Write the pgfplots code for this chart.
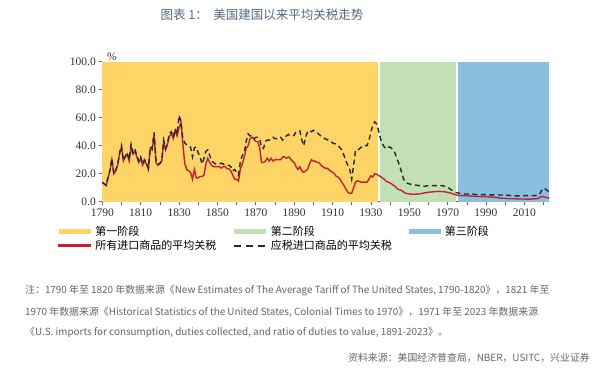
\documentclass[border=0pt]{standalone}
\usepackage{pgfplots}
\usepackage{pgfplotstable}
\pgfplotsset{compat=1.18}
\usepackage{fontspec}
\setmainfont{Noto Sans CJK SC}
\newfontfamily\serifnum{Liberation Serif}
\definecolor{phaseA}{HTML}{FFD466}
\definecolor{phaseB}{HTML}{C3E0B5}
\definecolor{phaseC}{HTML}{8CBEE0}
\definecolor{redline}{HTML}{C42032}
\definecolor{darkline}{HTML}{1C2B3A}
\definecolor{titlec}{HTML}{56697C}
\definecolor{notec}{HTML}{666666}
\pgfplotsset{
  patchleg/.style={legend image code/.code={\fill[##1] (0pt,-2.5pt) rectangle (32pt,2.5pt); \path (35pt,0pt);}},
  lineleg/.style={legend image code/.code={\fill[redline] (0pt,-0.8pt) rectangle (32pt,0.8pt); \path (35pt,0pt);}},
  dashleg/.style={legend image code/.code={\draw[darkline, line width=1.6pt, dash pattern=on 7pt off 5pt] (0pt,0pt) -- (32pt,0pt); \path (35pt,0pt);}},
}

\pgfplotstableread{
year val
1790 13.9
1791 12.7
1792 11.5
1793 17
1794 22
1795 30
1796 20
1797 22
1798 26
1799 34
1800 39
1801 29
1802 32
1803 34
1804 29
1805 39
1806 34
1807 36
1808 32
1809 28
1810 31
1811 26
1812 29
1813 27
1814 23
1815 38
1816 37
1817 48
1818 28
1819 26
1820 27
1821 29
1822 43
1823 37
1824 41
1825 47
1826 48.5
1827 45
1828 51
1829 47
1830 53
1831 57
1832 41
1833 27
1834 23
1835 22
1836 21
1837 16
1838 23
1839 17
1840 17
1841 18
1842 18
1843 19
1844 27
1845 31
1846 28
1847 26
1848 25
1849 25
1850 25
1851 25
1852 24
1853 25
1854 25
1855 23.5
1856 23.5
1857 22
1858 19
1859 16
1860 16
1861 14.6
1862 23.5
1863 27
1864 32
1865 38
1866 40
1867 45
1868 46
1869 45
1870 43
1871 43
1872 39
1873 28
1874 28
1875 29
1876 31
1877 29
1878 31
1879 29
1880 30
1881 30
1882 30
1883 30
1884 32
1885 32
1886 31
1887 32
1888 31
1889 29
1890 28
1891 25
1892 23
1893 25
1894 22
1895 21
1896 22
1897 23
1898 27
1899 30
1900 29
1901 29
1902 28
1903 28
1904 26
1905 25
1906 24
1907 24
1908 23
1909 22
1910 21
1911 20
1912 18
1913 17.5
1914 16
1915 13.5
1916 11.5
1917 9
1918 6.7
1919 6
1920 6
1921 10
1922 14
1923 15
1924 14.4
1925 14
1926 14
1927 14
1928 14
1929 16
1930 18.5
1931 17.5
1932 20
1933 19.6
1934 18.7
1935 18
1936 17
1937 16
1938 14.6
1939 14
1940 13.4
1941 12.5
1942 11.5
1943 10.5
1944 9
1945 8.5
1946 8
1947 7
1948 6
1949 5.8
1950 5.5
1952 5.3
1955 5.5
1958 6.3
1960 6.7
1962 7
1965 7.4
1968 7.2
1970 6.7
1972 6
1974 5
1975 4.5
1978 4.3
1980 4.3
1982 4
1985 3.8
1988 3.6
1990 3.6
1993 3.3
1995 3.1
1998 2.5
2000 2.4
2003 2.1
2005 2.1
2008 1.9
2010 1.9
2013 1.8
2015 2
2017 2.2
2018 3
2019 3.6
2020 3.6
2021 3
2022 3
2023 2.4
}\allimports

\pgfplotstableread{
year val
1790 13.9
1791 12.7
1792 11.8
1793 17.5
1794 22.5
1795 31
1796 20
1797 22.5
1798 26.5
1799 35
1800 40
1801 29.5
1802 32.5
1803 35
1804 30
1805 41
1806 35
1807 37.5
1808 33
1809 29
1810 32
1811 27
1812 30
1813 28
1814 24
1815 39
1816 38
1817 49.5
1818 28.5
1819 26.5
1820 27.5
1821 29.5
1822 44
1823 38
1824 42
1825 48.5
1826 50
1827 46
1828 52
1829 48
1830 61.7
1831 57
1832 45
1833 42
1834 40.5
1835 40
1836 39
1837 32
1838 38.5
1839 39
1840 35
1841 32
1842 27
1843 31
1844 36
1845 37
1846 33
1847 29
1848 28
1849 27
1850 27
1851 27
1852 27.5
1853 27
1854 26
1855 26
1856 26
1857 25
1858 22
1859 23
1860 21
1861 19
1862 29
1863 33
1864 35
1865 43
1866 48.5
1867 47
1868 47
1869 45
1870 46
1871 46
1872 45
1873 39
1874 38
1875 43
1876 44
1877 44
1878 45
1879 46
1880 45
1881 45
1882 46
1883 46
1884 44
1885 46
1886 47
1887 48
1888 47
1889 47
1890 47.4
1891 50
1892 50
1893 50.5
1894 44
1895 40
1896 46
1897 50
1898 51
1899 50
1900 51
1901 50
1902 49.5
1903 48
1904 47
1905 46.5
1906 45
1907 44.5
1908 43.8
1909 43
1910 42
1911 41.5
1912 41
1913 40
1914 38.5
1915 36.6
1916 33
1917 29
1918 26
1919 23
1920 16
1921 26
1922 36.6
1923 36.6
1924 37.8
1925 39
1926 39
1927 40
1928 40
1929 43.8
1930 49.8
1931 54.5
1932 57
1933 55.7
1934 51
1935 45
1936 41.4
1937 39
1938 37.8
1939 39
1940 39
1941 37.8
1942 36.6
1943 33
1944 29.4
1945 25.8
1946 21
1947 16.3
1948 13.9
1949 13.2
1950 12.7
1952 12.2
1955 11.5
1958 11
1960 11.5
1962 11.5
1965 11.5
1967 11.5
1969 10.8
1970 10.3
1972 8.4
1974 6.7
1976 6
1978 5.5
1980 5.5
1983 5.5
1985 5
1990 5
1995 4.8
2000 4.8
2005 4.1
2010 4.3
2015 4.3
2017 4.3
2018 5.5
2019 7.9
2020 9.8
2021 9
2022 7.9
2023 6.7
}\dutiable

\begin{document}
\begin{tikzpicture}[x=1pt,y=1pt]
\useasboundingbox[fill=white] (0,0) rectangle (600,374);
\node[font=\fontsize{12.5}{14}\selectfont, text=titlec] at (262,359) {图表 1：\ \ 美国建国以来平均关税走势};
\begin{axis}[
  at={(102.3pt,172.3pt)}, anchor=south west,
  scale only axis, width=447pt, height=140pt,
  xmin=1790, xmax=2023, ymin=0, ymax=100,
  axis x line*=bottom, axis y line*=left,
  axis line style={draw=gray!80!black, line width=0.6pt},
  xtick={1790,1810,...,2010},
  minor xtick={1800,1820,...,2020},
  ytick={0,20,...,100},
  tick align=outside,
  major tick length=3pt, minor tick length=3pt,
  tick style={draw=gray!80!black, line width=0.6pt},
  /pgf/number format/assume math mode=true,
  /pgf/number format/1000 sep={},
  xticklabel style={font=\fontsize{11.5}{13}\selectfont\serifnum, text=black!80, yshift=-0.5pt},
  yticklabel style={font=\fontsize{11.5}{13}\selectfont\serifnum, text=black!80,
    /pgf/number format/.cd, fixed, fixed zerofill, precision=1},
  legend columns=3,
  legend cell align=left,
  legend style={at={(rel axis cs:-0.099,-0.17)}, anchor=north west,
    draw=none, fill=none, inner sep=0pt, outer sep=0pt,
    nodes={inner sep=1pt}, row sep=1pt, column sep=0pt,
    font=\fontsize{11}{13}\selectfont},
  clip=false,
]
\addplot[fill=phaseA, draw=none, patchleg]
  coordinates {(1790,100) (1933.6,100)} \closedcycle;
\addlegendentry{\makebox[137pt][l]{第一阶段}}
\addplot[fill=phaseB, draw=none, patchleg]
  coordinates {(1934.6,100) (1974.4,100)} \closedcycle;
\addlegendentry{\makebox[137pt][l]{第二阶段}}
\addplot[fill=phaseC, draw=none, patchleg]
  coordinates {(1975.4,100) (2023,100)} \closedcycle;
\addlegendentry{\makebox[137pt][l]{第三阶段}}
\addplot[redline, line width=1.4pt, no marks, lineleg]
  table[x=year, y=val] {\allimports};
\addlegendentry{\makebox[137pt][l]{所有进口商品的平均关税}}
\addplot[darkline, line width=1.4pt, no marks, dash pattern=on 5pt off 3.5pt, dashleg]
  table[x=year, y=val] {\dutiable};
\addlegendentry{\makebox[137pt][l]{应税进口商品的平均关税}}
\end{axis}
\node[font=\fontsize{11.5}{12}\selectfont\serifnum, text=black!80] at (112,317) {\%};
\begin{scope}[every node/.style={font=\fontsize{9.9}{12}\selectfont, text=notec, inner sep=0pt}]
\node[anchor=west] at (25,83) {注：1790 年至 1820 年数据来源《New Estimates of The Average Tariff of The United States, 1790-1820》，1821 年至};
\node[anchor=west] at (25,62) {1970 年数据来源《Historical Statistics of the United States, Colonial Times to 1970》，1971 年至 2023 年数据来源};
\node[anchor=west] at (25,42) {《U.S. imports for consumption, duties collected, and ratio of duties to value, 1891-2023》。};
\node[anchor=east] at (590,16) {资料来源：美国经济普查局，NBER，USITC，兴业证券};
\end{scope}
\end{tikzpicture}
\end{document}
